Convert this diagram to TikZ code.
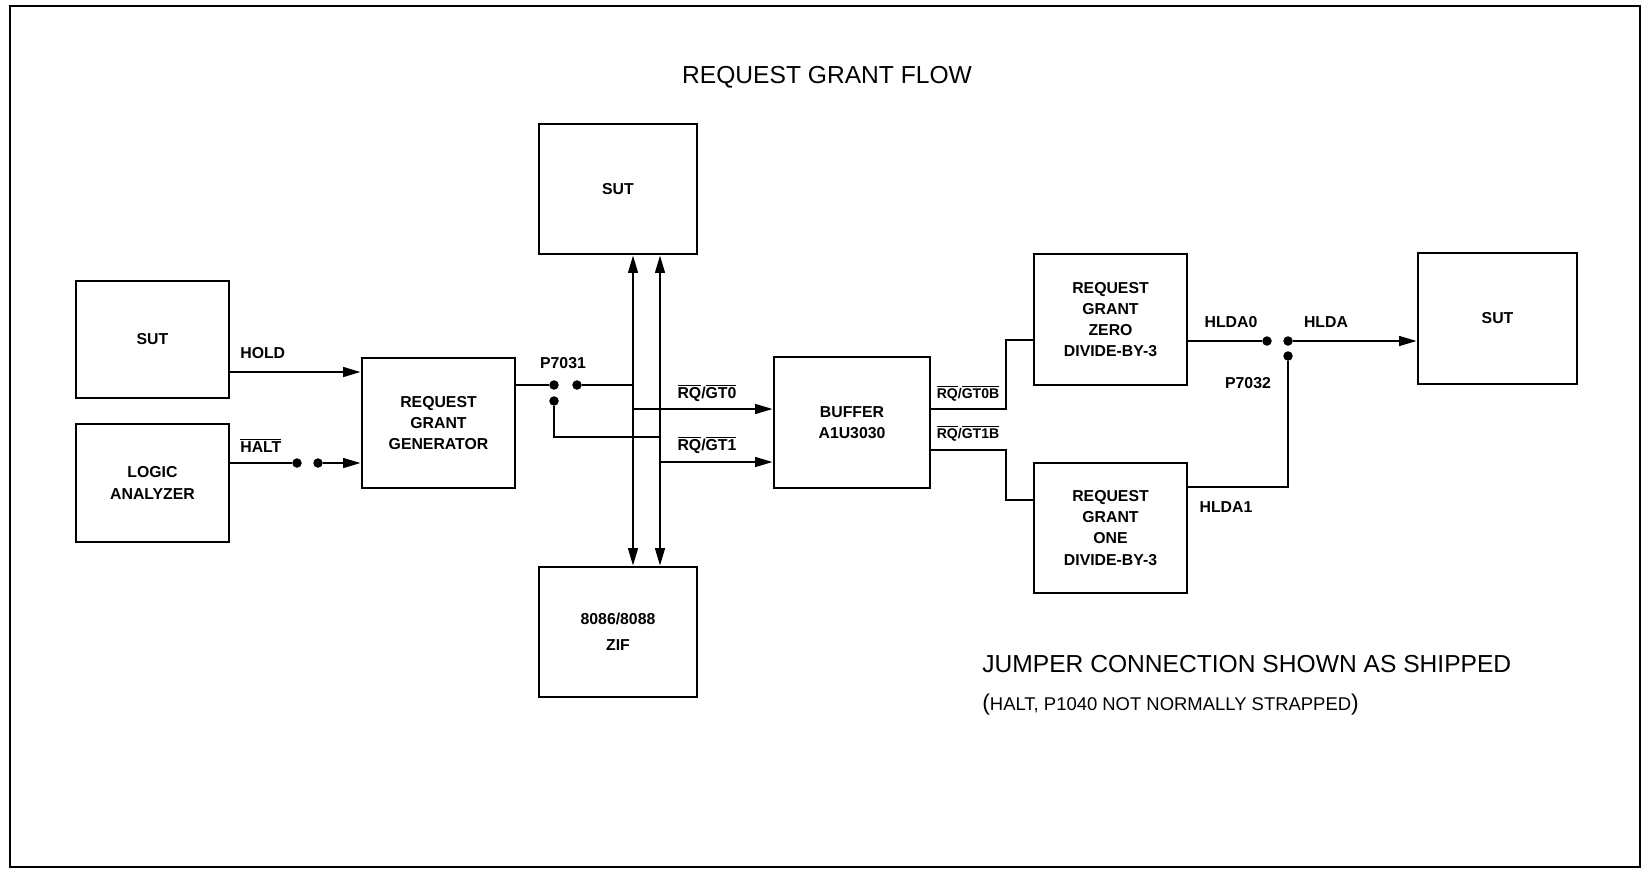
\documentclass[tikz,border=0pt]{standalone}
\usepackage{fontspec}
\setmainfont{Liberation Sans}
\usetikzlibrary{arrows.meta}
\newcommand{\ovl}[1]{$\overline{\mbox{#1}}$}

\begin{document}
\begin{tikzpicture}[x=0.02cm, y=-0.02cm,
  blk/.style={draw, line width=1.5pt, align=center, inner sep=0pt,
    font=\bfseries\fontsize{9}{12}\selectfont},
  wire/.style={line width=1.3pt},
  arr/.style={wire, -{Triangle[length=10pt,width=5.5pt]}},
  dbl/.style={wire, {Triangle[length=10pt,width=5.5pt]}-{Triangle[length=10pt,width=5.5pt]}},
  pin/.style={circle, fill, inner sep=0pt, minimum size=0.19cm},
  lbl/.style={font=\bfseries\fontsize{9}{11}\selectfont, inner sep=0pt},
  sml/.style={font=\bfseries\fontsize{8}{10}\selectfont, inner sep=0pt}]
  \useasboundingbox (0,0) rectangle (1642,870);
  \draw[line width=1.3pt] (10,6) rectangle (1640,867);
  \node[font=\fontsize{14}{16}\selectfont] (title) at (827,77) {REQUEST GRANT FLOW};

  % blocks
  \node[blk, minimum width=3.06cm, minimum height=2.34cm] (sutL) at (152.5,339.5) {SUT};
  \node[blk, minimum width=3.06cm, minimum height=2.36cm] (la) at (152.5,483) {LOGIC\\ANALYZER};
  \node[blk, minimum width=3.06cm, minimum height=2.6cm] (rgg) at (438.5,423) {REQUEST\\GRANT\\GENERATOR};
  \node[blk, minimum width=3.16cm, minimum height=2.6cm] (sutT) at (618,189) {SUT};
  \node[blk, minimum width=3.16cm, minimum height=2.6cm] (zif) at (618,632) {8086/8088\\[3pt]ZIF};
  \node[blk, minimum width=3.12cm, minimum height=2.62cm] (buf) at (852,422.5) {BUFFER\\A1U3030};
  \node[blk, minimum width=3.06cm, minimum height=2.62cm] (rgz) at (1110.5,319.5) {REQUEST\\GRANT\\ZERO\\DIVIDE-BY-3};
  \node[blk, minimum width=3.06cm, minimum height=2.6cm] (rgo) at (1110.5,528) {REQUEST\\GRANT\\ONE\\DIVIDE-BY-3};
  \node[blk, minimum width=3.18cm, minimum height=2.62cm] (sutR) at (1497.5,318.5) {SUT};

  % jumper pins
  \node[pin] (h1) at (297,463) {};
  \node[pin] (h2) at (318,463) {};
  \node[pin] (p1a) at (554,385) {};
  \node[pin] (p1b) at (577,385) {};
  \node[pin] (p1c) at (554,401) {};
  \node[pin] (p2a) at (1267,341) {};
  \node[pin] (p2b) at (1288,341) {};
  \node[pin] (p2c) at (1288,356) {};
  \coordinate (busL) at (633,0);
  \coordinate (busR) at (660,0);

  % left side
  \draw[arr] (sutL.east |- 0,372) -- (rgg.west |- 0,372);
  \draw[wire] (la.east |- h1) -- (h1);
  \draw[arr] (h2) -- (rgg.west |- h2);
  \node[lbl, anchor=west] (hold) at (240,353) {HOLD};
  \node[lbl, anchor=west] (halt) at (240,445) {\ovl{HALT}};

  % P7031 and bus
  \draw[wire] (rgg.east |- p1a) -- (p1a);
  \draw[wire] (p1b) -- (busL |- p1b);
  \draw[wire] (p1c) |- (busR |- 0,437);
  \node[lbl] (p7031) at (563,363) {P7031};
  \draw[dbl] (sutT.south -| busL) -- (zif.north -| busL);
  \draw[dbl] (sutT.south -| busR) -- (zif.north -| busR);
  \draw[arr] (busL |- 0,409) -- (buf.west |- 0,409);
  \draw[arr] (busR |- 0,462) -- (buf.west |- 0,462);
  \node[lbl] (rq0) at (707,393) {\ovl{RQ}/\ovl{GT0}};
  \node[lbl] (rq1) at (707,445) {\ovl{RQ}/\ovl{GT1}};

  % buffer outputs
  \draw[wire] (buf.east |- 0,409) -| (1006,340) -- (rgz.west |- 0,340);
  \draw[wire] (buf.east |- 0,450) -| (1006,500) -- (rgo.west |- 0,500);
  \node[sml] (rq0b) at (968,393) {\ovl{RQ}/\ovl{GT0B}};
  \node[sml] (rq1b) at (968,433) {\ovl{RQ}/\ovl{GT1B}};

  % P7032 and HLDA
  \draw[wire] (rgz.east |- p2a) -- (p2a);
  \draw[arr] (p2b) -- (sutR.west |- p2b);
  \draw[wire] (p2c) |- (rgo.east |- 0,487);
  \node[lbl] (hlda0) at (1231,322) {HLDA0};
  \node[lbl] (hlda) at (1326,322) {HLDA};
  \node[lbl] (p7032) at (1248,383) {P7032};
  \node[lbl] (hlda1) at (1226,507) {HLDA1};

  % notes
  \node[anchor=west, inner sep=0pt, font=\fontsize{14}{16}\selectfont] (note) at (982,664) {JUMPER CONNECTION SHOWN AS SHIPPED};
  \node[anchor=west, inner sep=0pt, font=\fontsize{10.5}{12}\selectfont] (note2) at (982,705)
    {{\fontsize{13}{13}\selectfont(}HALT, P1040 NOT NORMALLY STRAPPED{\fontsize{13}{13}\selectfont)}};
\end{tikzpicture}
\end{document}
